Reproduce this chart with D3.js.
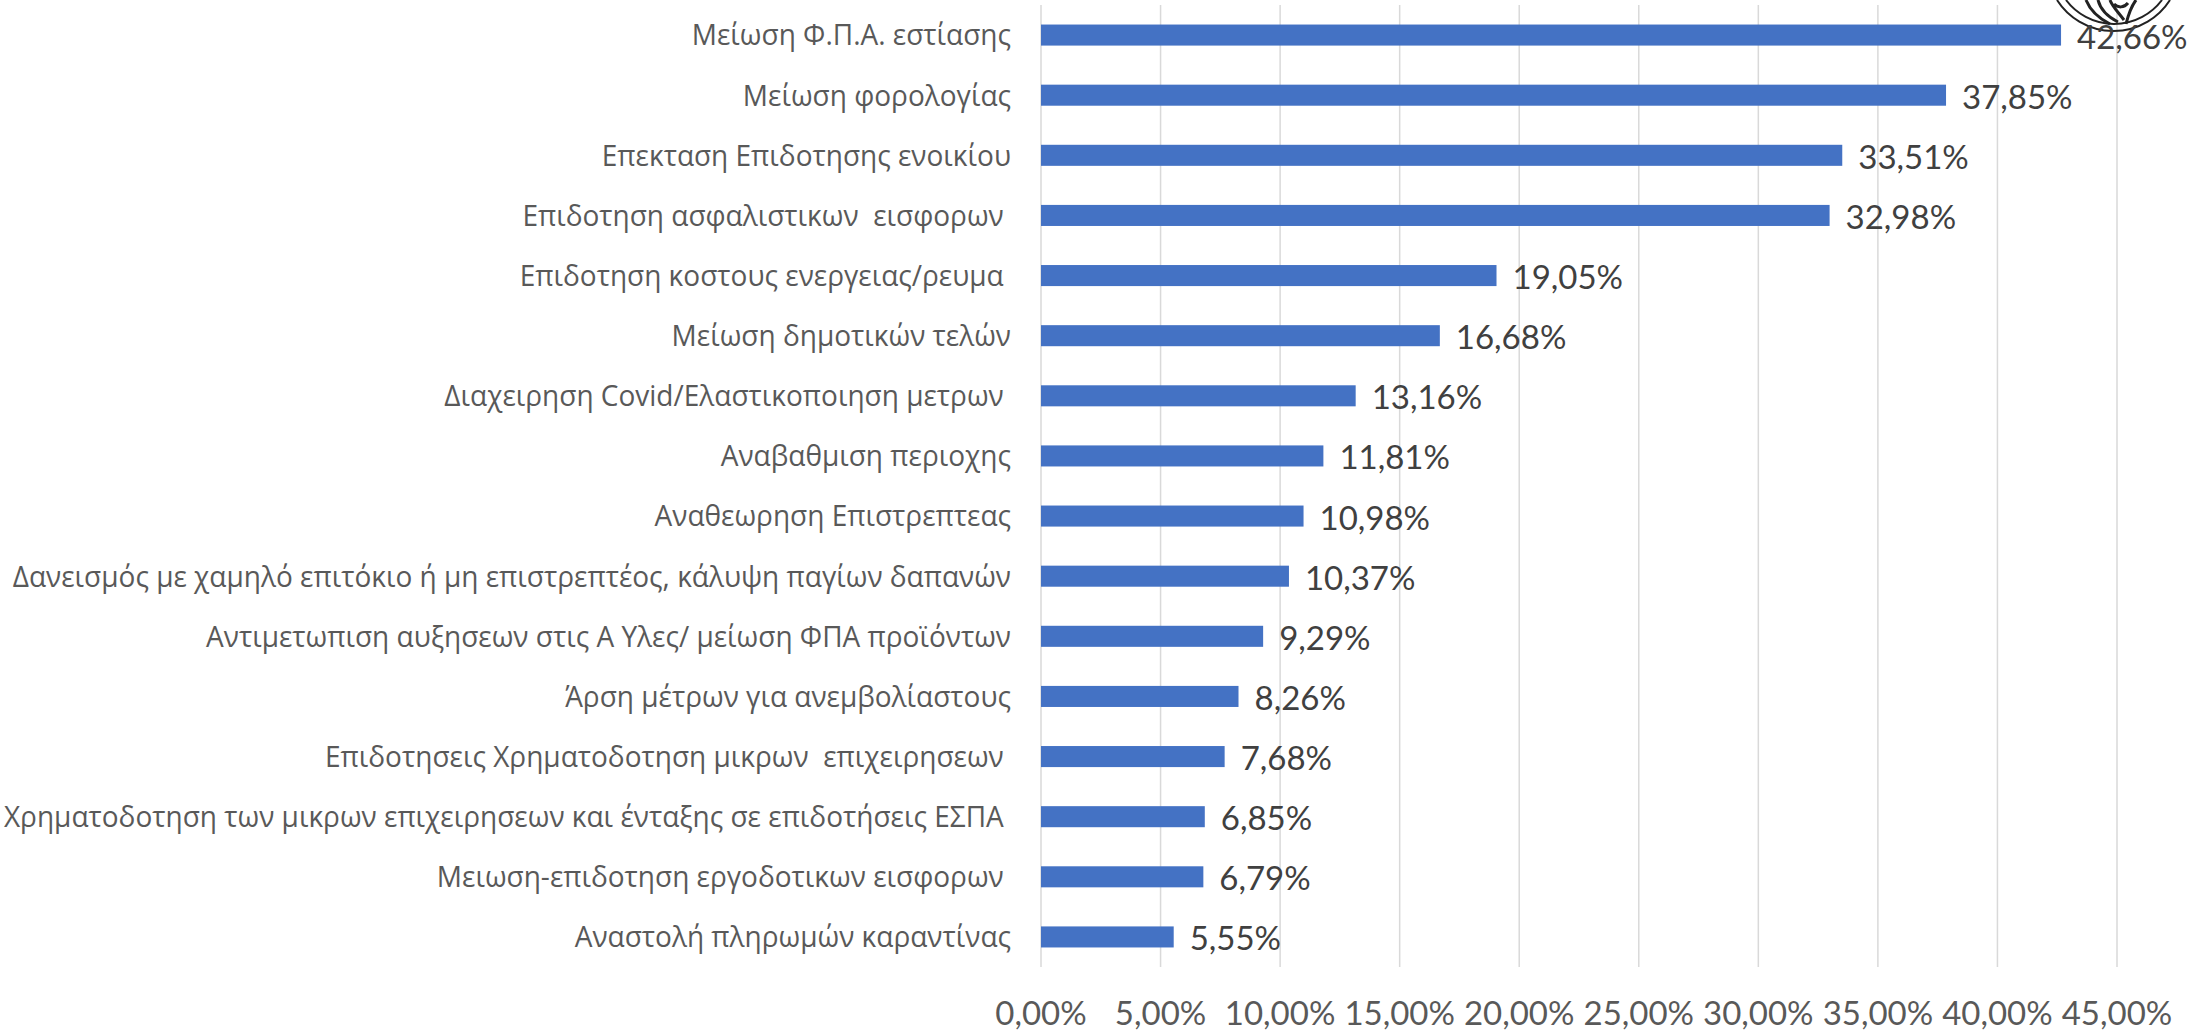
<!DOCTYPE html>
<html><head><meta charset="utf-8">
<script src="https://cdn.jsdelivr.net/npm/d3@7"></script>
<style>html,body{margin:0;padding:0;background:#fff}svg{display:block}</style>
</head><body><svg id="c" width="2208" height="1032"></svg>
<script>
const categories=["Μείωση Φ.Π.Α. εστίασης","Μείωση φορολογίας","Επεκταση Επιδοτησης ενοικίου","Επιδοτηση ασφαλιστικων  εισφορων ","Επιδοτηση κοστους ενεργειας/ρευμα ","Μείωση δημοτικών τελών","Διαχειρηση Covid/Ελαστικοποιηση μετρων ","Αναβαθμιση περιοχης","Αναθεωρηση Επιστρεπτεας","Δανεισμός με χαμηλό επιτόκιο ή μη επιστρεπτέος, κάλυψη παγίων δαπανών","Αντιμετωπιση αυξησεων στις Α Υλες/ μείωση ΦΠΑ προϊόντων","Άρση μέτρων για ανεμβολίαστους","Επιδοτησεις Χρηματοδοτηση μικρων  επιχειρησεων ","Χρηματοδοτηση των μικρων επιχειρησεων και ένταξης σε επιδοτήσεις ΕΣΠΑ ","Μειωση-επιδοτηση εργοδοτικων εισφορων ","Αναστολή πληρωμών καραντίνας"];
const values=[42.66,37.85,33.51,32.98,19.05,16.68,13.16,11.81,10.98,10.37,9.29,8.26,7.68,6.85,6.79,5.55];
const ticks=[0,5,10,15,20,25,30,35,40,45];
const fmt=v=>v.toFixed(2).replace(".",",")+"%";
const font="'Open Sans','Noto Sans',sans-serif";
const numFont="Lato,'Open Sans',sans-serif";
const svg=d3.select("#c");
const x=d3.scaleLinear().domain([0,45]).range([1041,2117]);
const y=d3.scaleBand().domain(categories).range([5,967]).paddingInner(0.65).paddingOuter(0.325);
const bw=y.bandwidth();
svg.append("g").selectAll("line").data(ticks).join("line")
  .attr("x1",d=>x(d)).attr("x2",d=>x(d)).attr("y1",5).attr("y2",967)
  .attr("stroke","#d9d9d9").attr("stroke-width",1.5);
const logo=svg.append("g").attr("fill","none").attr("stroke","#222");
logo.append("path").attr("stroke-width",2).attr("d","M2057,0 A67,67 0 0 0 2170,0");
logo.append("path").attr("stroke-width",2).attr("d","M2066,0 A60,60 0 0 0 2162,0");
logo.append("path").attr("stroke-width",3).attr("d","M2086,0 C2090,10 2098,18 2110,24 M2098,0 C2100,8 2106,16 2118,22 M2110,0 C2112,6 2118,12 2124,20 M2126,24 C2128,16 2130,8 2136,0 M2114,4 C2118,8 2124,8 2128,3");
svg.append("g").selectAll("rect").data(categories).join("rect")
  .attr("x",x(0)).attr("y",d=>y(d)).attr("height",bw)
  .attr("width",(d,i)=>x(values[i])-x(0)).attr("fill","#4472c4");
svg.append("g").selectAll("text").data(categories).join("text")
  .attr("transform",d=>`translate(1011,${y(d)+bw/2}) scale(0.94,1)`).attr("dy","0.35em").attr("text-anchor","end")
  .style("white-space","pre")
  .attr("font-family",font).attr("font-size",29.8).attr("fill","#595959").text(d=>d);
svg.append("g").selectAll("text").data(values).join("text")
  .attr("x",d=>x(d)+16).attr("y",(d,i)=>y(categories[i])+bw/2+2).attr("dy","0.35em")
  .attr("font-family",numFont).attr("font-size",33).attr("fill","#404040").text(fmt);
svg.append("g").selectAll("text").data(ticks).join("text")
  .attr("x",d=>x(d)).attr("y",1024.5).attr("text-anchor","middle")
  .attr("font-family",numFont).attr("font-size",33).attr("fill","#595959").text(fmt);
</script></body></html>
